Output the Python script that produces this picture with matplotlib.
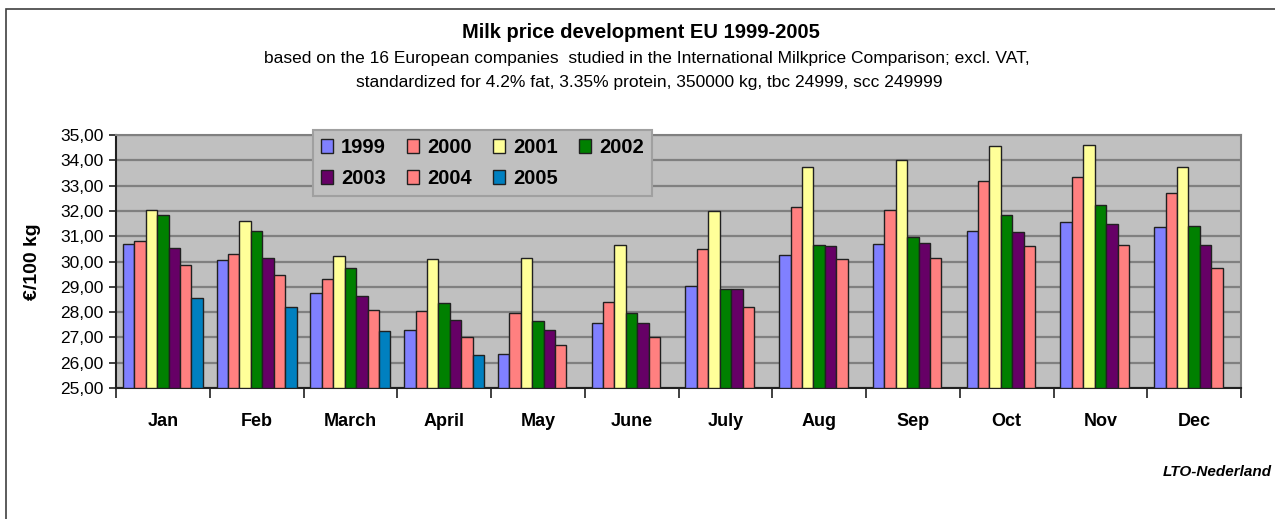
import numpy as np
import matplotlib
matplotlib.use("Agg")
import matplotlib.pyplot as plt
from matplotlib import font_manager
from matplotlib.patches import Rectangle, Patch
from matplotlib.ticker import FuncFormatter

months = ["Jan", "Feb", "March", "April", "May", "June",
          "July", "Aug", "Sep", "Oct", "Nov", "Dec"]
years = ["1999", "2000", "2001", "2002", "2003", "2004", "2005"]

p1999 = [30.70, 30.05, 28.75, 27.30, 26.35, 27.55, 29.05, 30.25, 30.70, 31.20, 31.55, 31.35]
p2000 = [30.80, 30.30, 29.30, 28.05, 27.95, 28.40, 30.50, 32.15, 32.05, 33.20, 33.35, 32.70]
p2001 = [32.05, 31.60, 30.20, 30.10, 30.15, 30.65, 32.00, 33.75, 34.00, 34.55, 34.60, 33.75]
p2002 = [31.85, 31.20, 29.75, 28.35, 27.65, 27.95, 28.90, 30.65, 30.95, 31.85, 32.25, 31.40]
p2003 = [30.55, 30.15, 28.65, 27.70, 27.30, 27.55, 28.90, 30.60, 30.75, 31.15, 31.50, 30.65]
p2004 = [29.85, 29.45, 28.10, 27.00, 26.70, 27.00, 28.20, 30.10, 30.15, 30.60, 30.65, 29.75]
p2005 = [28.55, 28.20, 27.25, 26.30, None, None, None, None, None, None, None, None]

series = [p1999, p2000, p2001, p2002, p2003, p2004, p2005]
colors = ["#8080FF", "#FF8080", "#FFFF99", "#008000", "#660066", "#FF8080", "#0080C0"]

# pick a narrow Arial-like font if it is there
names = {f.name for f in font_manager.fontManager.ttflist}
narrow = "Liberation Sans Narrow" if "Liberation Sans Narrow" in names else "Liberation Sans"
plt.rcParams["font.family"] = [narrow, "DejaVu Sans"]

fig = plt.figure(figsize=(12.75, 5.19), dpi=100)
W, H = 1275, 519

# outer chart frame (runs off right and bottom)
fig.patches.append(Rectangle((6 / W, -0.1), 1.2, 1 - 9 / H + 0.1, transform=fig.transFigure,
                             fill=False, edgecolor="#404040", linewidth=1.2))

ax = fig.add_axes([116 / W, 1 - 388 / H, (1241 - 116) / W, (388 - 135) / H])
ax.set_facecolor("#C0C0C0")

x = np.arange(len(months))
bw = 0.122
base = 25.0
for i, (vals, c) in enumerate(zip(series, colors)):
    xs = [xi - 0.5 + 0.073 + bw * (i + 0.5) for xi, a in zip(x, vals) if a is not None]
    hs = [a - base for a in vals if a is not None]
    ax.bar(xs, hs, bottom=base, width=bw, color=c, edgecolor="#202020",
           linewidth=1.0, zorder=3)

ax.set_ylim(25, 35)
ax.set_xlim(-0.5, len(months) - 0.5)
ax.set_yticks(np.arange(25, 35.01, 1))
ax.yaxis.set_major_formatter(FuncFormatter(lambda v, p: f"{v:.2f}".replace(".", ",")))
ax.grid(axis="y", color="#808080", linewidth=1.6, zorder=1)
ax.set_axisbelow(True)

ax.set_xticks(np.arange(-0.5, len(months), 1))
ax.set_xticklabels([])
ax.set_xticks(x, minor=True)
ax.set_xticklabels(months, minor=True, fontsize=13, fontweight="bold")
ax.tick_params(axis="x", which="minor", length=0, pad=18)
ax.tick_params(axis="x", which="major", length=7, width=1.2, color="#202020", direction="out")
ax.tick_params(axis="y", length=5, width=1.2, color="#202020", labelsize=12.5, pad=4)

for s in ["top", "right"]:
    ax.spines[s].set_color("#808080")
    ax.spines[s].set_linewidth(1.5)
for s in ["left", "bottom"]:
    ax.spines[s].set_color("#202020")
    ax.spines[s].set_linewidth(1.5)

ax.set_ylabel("€/100 kg", fontsize=14, fontweight="bold", labelpad=14)

# legend, filled row by row
handles = [Patch(facecolor=c, edgecolor="#202020", linewidth=1.0, label=y)
           for c, y in zip(colors, years)]
order = [0, 4, 1, 5, 2, 6, 3]
leg = fig.legend([handles[k] for k in order], [years[k] for k in order], ncol=4,
                 loc="upper left", bbox_to_anchor=(313 / W, 1 - 130 / H),
                 prop={"weight": "bold", "size": 14.5},
                 frameon=True, fancybox=False, facecolor="#C0C0C0", edgecolor="#A0A0A0",
                 framealpha=1.0, handlelength=0.6, handleheight=0.65, handletextpad=0.4,
                 columnspacing=1.05, labelspacing=0.6, borderpad=0.4, borderaxespad=0)
leg.get_frame().set_linewidth(1.5)
leg.set_zorder(10)

fig.text(641 / W, 1 - 32 / H, "Milk price development EU 1999-2005", ha="center", va="center",
         fontsize=14.5, fontweight="bold")
fig.text(647 / W, 1 - 58 / H,
         "based on the 16 European companies  studied in the International Milkprice Comparison; excl. VAT,",
         ha="center", va="center", fontsize=12.5)
fig.text(649 / W, 1 - 83 / H,
         "standardized for 4.2% fat, 3.35% protein, 350000 kg, tbc 24999, scc 249999",
         ha="center", va="center", fontsize=12.5)
fig.text(1272 / W, 1 - 472 / H, "LTO-Nederland", ha="right", va="center", fontsize=11,
         fontweight="bold", fontstyle="italic")

fig.savefig("out.png", dpi=100)
